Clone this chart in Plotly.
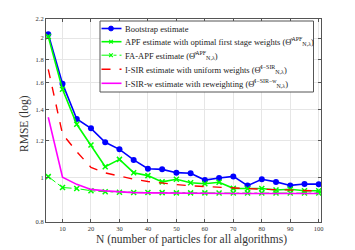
import plotly.graph_objects as go
import math

N = [5, 10, 15, 20, 25, 30, 35, 40, 45, 50, 55, 60, 65, 70, 75, 80, 85, 90, 95, 100]

bootstrap = [2.04, 1.594, 1.337, 1.276, 1.19, 1.149, 1.09, 1.043, 1.04, 1.023,
             1.02, 0.986, 0.996, 1.004, 0.959, 0.990, 0.977, 0.960, 0.967, 0.966]
apf = [2.015, 1.55, 1.302, 1.174, 1.054, 1.093, 1.023, 1.008, 0.977, 0.99,
       0.973, 0.968, 0.975, 0.946, 0.944, 0.945, 0.938, 0.942, 0.935, 0.935]
fa_apf = [1.003, 0.95, 0.945, 0.935, 0.93, 0.928, 0.927, 0.927, 0.926, 0.925,
          0.925, 0.925, 0.924, 0.924, 0.924, 0.924, 0.924, 0.924, 0.924, 0.924]
isir = [1.712, 1.24, 1.136, 1.05, 1.022, 1.005, 0.99, 0.979, 0.97, 0.964,
        0.958, 0.954, 0.951, 0.948, 0.945, 0.942, 0.940, 0.938, 0.936, 0.934]
isir_w = [1.348, 1.0, 0.965, 0.941, 0.934, 0.929, 0.926, 0.925, 0.924, 0.923,
          0.922, 0.922, 0.922, 0.922, 0.922, 0.922, 0.922, 0.922, 0.922, 0.922]

y_ticks = [0.8, 1, 1.2, 1.4, 1.6, 1.8, 2, 2.2]
y_tick_text = ["0.8", "1", "1.2", "1.4", "1.6", "1.8", "2", "2.2"]
x_ticks = [10, 20, 30, 40, 50, 60, 70, 80, 90, 100]

TH = "(\u0398\u0302"
names = [
    "Bootstrap estimate",
    "APF estimate with optimal first stage weights " + TH + "<sup>APF</sup><sub>N,\u03bb</sub>)",
    "FA-APF estimate " + TH + "<sup>APF</sup><sub>N,\u03bb</sub>)",
    "I-SIR estimate with uniform weights " + TH + "<sup>I\u2212SIR</sup><sub>N,\u03bb</sub>)",
    "I-SIR-w estimate with reweighting " + TH + "<sup>I\u2212SIR\u2212w</sup><sub>N,\u03bb</sub>)",
]

BLUE, GREEN, RED, MAG = "#0000FF", "#00FF00", "#FF0000", "#FF00FF"
SERIF = "Liberation Serif, DejaVu Serif, serif"
AXC = "#555555"
TXT = "#333333"

W, H = 355, 250
L, R, T, B = 46, 34, 19, 28
PW, PH = W - L - R, H - T - B


def px(x):
    return (x - L) / PW


def py(y):
    return (H - B - y) / PH


fig = go.Figure()
fig.add_trace(go.Scatter(x=N, y=bootstrap, name=names[0], mode="lines+markers",
                         line=dict(color=BLUE, width=1.6),
                         marker=dict(symbol="circle", size=6, color=BLUE)))
fig.add_trace(go.Scatter(x=N, y=apf, name=names[1], mode="lines+markers",
                         line=dict(color=GREEN, width=1.6),
                         marker=dict(symbol="x-thin", size=5, line=dict(color=GREEN, width=1.5))))
fig.add_trace(go.Scatter(x=N, y=fa_apf, name=names[2], mode="lines+markers",
                         line=dict(color=GREEN, width=1.0, dash="dashdot"),
                         marker=dict(symbol="x-thin", size=5, line=dict(color=GREEN, width=1.5))))
fig.add_trace(go.Scatter(x=N, y=isir, name=names[3], mode="lines",
                         line=dict(color=RED, width=1.4, dash="dash")))
fig.add_trace(go.Scatter(x=N, y=isir_w, name=names[4], mode="lines",
                         line=dict(color=MAG, width=1.6)))

# custom legend (compact, like the reference)
shapes = [dict(type="rect", xref="paper", yref="paper",
               x0=px(100), x1=px(313.5), y0=py(92), y1=py(21),
               line=dict(color=AXC, width=1), fillcolor="white", layer="above")]
annotations = []
row_y = [28.5, 41.7, 55.2, 69.3, 83.3]
styles = [
    dict(color=BLUE, width=1.6, dash="solid", marker="circle"),
    dict(color=GREEN, width=1.6, dash="solid", marker="x"),
    dict(color=GREEN, width=1.0, dash="dashdot", marker="x"),
    dict(color=RED, width=1.4, dash="dash", marker=None),
    dict(color=MAG, width=1.6, dash="solid", marker=None),
]
for name, yy, st in zip(names, row_y, styles):
    shapes.append(dict(type="line", xref="paper", yref="paper",
                       x0=px(101.5), x1=px(121.5), y0=py(yy), y1=py(yy),
                       line=dict(color=st["color"], width=st["width"], dash=st["dash"]),
                       layer="above"))
    mx = 111.0
    if st["marker"] == "circle":
        shapes.append(dict(type="circle", xref="paper", yref="paper",
                           x0=px(mx - 2.4), x1=px(mx + 2.4), y0=py(yy + 2.4), y1=py(yy - 2.4),
                           line=dict(color=st["color"], width=1), fillcolor=st["color"],
                           layer="above"))
    elif st["marker"] == "x":
        for d in (1, -1):
            shapes.append(dict(type="line", xref="paper", yref="paper",
                               x0=px(mx - 1.8), x1=px(mx + 1.8),
                               y0=py(yy - 1.8 * d), y1=py(yy + 1.8 * d),
                               line=dict(color=st["color"], width=1.2), layer="above"))
    annotations.append(dict(text=name, xref="paper", yref="paper", x=px(123), y=py(yy),
                            xanchor="left", yanchor="middle", showarrow=False,
                            font=dict(family=SERIF, size=8.5, color="#222222")))

annotations.append(dict(text="N (number of particles for all algorithms)",
                        xref="paper", yref="paper", x=px(191), y=py(239),
                        xanchor="center", yanchor="middle", showarrow=False,
                        font=dict(family=SERIF, size=11.5, color=TXT)))
annotations.append(dict(text="RMSE (log)", textangle=-90,
                        xref="paper", yref="paper", x=px(25), y=py(124),
                        xanchor="center", yanchor="middle", showarrow=False,
                        font=dict(family=SERIF, size=11.5, color=TXT)))

axis_common = dict(showline=True, linecolor=AXC, linewidth=1, mirror="ticks",
                   ticks="inside", ticklen=3, tickcolor=AXC, automargin=False,
                   showgrid=True, gridcolor="#E6E6E6", gridwidth=1, zeroline=False,
                   tickfont=dict(family=SERIF, size=6.5, color=TXT))

fig.update_layout(
    width=W, height=H,
    margin=dict(l=L, r=R, t=T, b=B, autoexpand=False),
    paper_bgcolor="white", plot_bgcolor="white",
    showlegend=False,
    shapes=shapes,
    annotations=annotations,
    xaxis=dict(range=[4.2, 100.8], tickvals=x_ticks, **axis_common),
    yaxis=dict(type="log", range=[math.log10(0.8), math.log10(2.2)],
               tickvals=y_ticks, ticktext=y_tick_text, **axis_common),
)

fig.write_html("out.html", config={"displayModeBar": False},
               post_script="document.body.style.margin='0';document.body.style.overflow='hidden';")
